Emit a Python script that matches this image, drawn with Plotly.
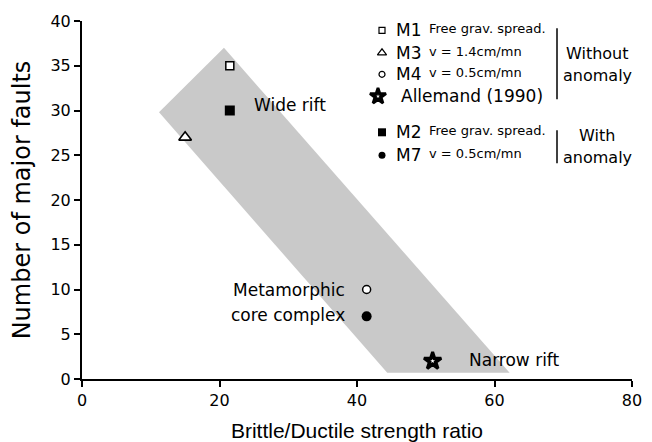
import plotly.graph_objects as go

# ---------------- data ----------------
models = ["M1", "M2", "M3", "M4", "M7", "Allemand (1990)"]
strength_ratio = [21.5, 21.5, 15.0, 41.4, 41.4, 51.0]
major_faults = [35, 30, 27, 10, 7, 2]

band_ratio = [20.65, 11.2, 44.4, 62.2]
band_faults = [37.0, 29.8, 0.7, 0.7]

x_ticks = [0, 20, 40, 60, 80]
y_ticks = [0, 5, 10, 15, 20, 25, 30, 35, 40]

legend_models = ["M1", "M3", "M4", "Allemand (1990)", "M2", "M7"]
legend_desc = ["Free grav. spread.", "v = 1.4cm/mn", "v = 0.5cm/mn", "",
               "Free grav. spread.", "v = 0.5cm/mn"]

# ---------------- layout geometry (page pixels) ----------------
PAGE_OFF = 8                      # default body margin of the html page
W, H = 652 - PAGE_OFF, 442 - PAGE_OFF
PL, PR, PT, PB = 82, 632, 20.7, 378.7   # plot area in page pixels
X0, X1, Y0, Y1 = 0, 80, 0, 40


def dx(px):
    return X0 + (px - PL) / (PR - PL) * (X1 - X0)


def dy(py):
    return Y0 + (PB - py) / (PB - PT) * (Y1 - Y0)


STAR = "Allemand (1990)"
styles = {
    "M1": dict(symbol="square", color="white", line=dict(color="black", width=1.5), size=8),
    "M2": dict(symbol="square", color="black", line=dict(color="black", width=0), size=10),
    "M3": dict(symbol="triangle-up", color="white", line=dict(color="black", width=1.6), size=11),
    "M4": dict(symbol="circle", color="white", line=dict(color="black", width=1.5), size=8),
    "M7": dict(symbol="circle", color="black", line=dict(color="black", width=0), size=10),
    STAR: dict(symbol="star", color="black", line=dict(color="black", width=3), size=13),
}
star_hole = dict(symbol="star", color="white", line=dict(color="white", width=0), size=3.5)

legend_styles = {
    "M1": dict(symbol="square", color="white", line=dict(color="black", width=1.2), size=6),
    "M2": dict(symbol="square", color="black", line=dict(color="black", width=0), size=8),
    "M3": dict(symbol="triangle-up", color="white", line=dict(color="black", width=1.2), size=8),
    "M4": dict(symbol="circle", color="white", line=dict(color="black", width=1.2), size=6),
    "M7": dict(symbol="circle", color="black", line=dict(color="black", width=0), size=7),
    STAR: dict(symbol="star", color="black", line=dict(color="black", width=2.8), size=12),
}
legend_star_hole = dict(symbol="star", color="white", line=dict(color="white", width=0), size=3)

fig = go.Figure()

# gray band
fig.add_trace(go.Scatter(
    x=band_ratio, y=band_faults, mode="lines", fill="toself",
    fillcolor="#c9c9c9", line=dict(width=0, color="#c9c9c9"),
    hoverinfo="skip", showlegend=False))

# data points
for m, xv, yv in zip(models, strength_ratio, major_faults):
    fig.add_trace(go.Scatter(x=[xv], y=[yv], mode="markers", marker=styles[m],
                             showlegend=False, name=m, cliponaxis=False))
    if m == STAR:
        fig.add_trace(go.Scatter(x=[xv], y=[yv], mode="markers", marker=star_hole,
                                 showlegend=False, hoverinfo="skip", cliponaxis=False))

# custom legend
row_py = [30, 52.5, 74, 96, 132, 155]
ann = []
for m, desc, py in zip(legend_models, legend_desc, row_py):
    mx = dx(378) if m == STAR else dx(382)
    fig.add_trace(go.Scatter(x=[mx], y=[dy(py)], mode="markers", marker=legend_styles[m],
                             showlegend=False, hoverinfo="skip", cliponaxis=False))
    if m == STAR:
        fig.add_trace(go.Scatter(x=[mx], y=[dy(py)], mode="markers", marker=legend_star_hole,
                                 showlegend=False, hoverinfo="skip", cliponaxis=False))
        ann.append(dict(x=dx(399), y=dy(py), text=m, xanchor="left", yanchor="middle",
                        font=dict(family="DejaVu Sans", size=17, color="black")))
    else:
        ann.append(dict(x=dx(394), y=dy(py), text=m, xanchor="left", yanchor="middle",
                        font=dict(family="DejaVu Sans", size=17, color="black")))
        ann.append(dict(x=dx(427), y=dy(py - 1.5), text=desc, xanchor="left", yanchor="middle",
                        font=dict(family="DejaVu Sans", size=13, color="black")))

group_text = [("Without", 53), ("anomaly", 75), ("With", 135.5), ("anomaly", 157)]
for t, py in group_text:
    ann.append(dict(x=dx(597), y=dy(py), text=t, xanchor="center", yanchor="middle",
                    font=dict(family="DejaVu Sans", size=16, color="black")))

# in-plot labels
labels = [("Wide rift", 252, 105, "left"), ("Metamorphic", 347, 290, "right"),
          ("core complex", 347, 315, "right"), ("Narrow rift", 467, 360, "left")]
for t, px, py, anc in labels:
    ann.append(dict(x=dx(px), y=dy(py), text=t, xanchor=anc, yanchor="middle",
                    font=dict(family="DejaVu Sans", size=17, color="black")))

for a in ann:
    a.update(showarrow=False, xref="x", yref="y")

shapes = [
    dict(type="line", xref="x", yref="y", x0=dx(557), x1=dx(557), y0=dy(28), y1=dy(99),
         line=dict(color="black", width=1.5)),
    dict(type="line", xref="x", yref="y", x0=dx(557), x1=dx(557), y0=dy(130), y1=dy(163),
         line=dict(color="black", width=1.5)),
]

axis_common = dict(showline=True, linecolor="black", linewidth=2, ticks="outside",
                   ticklen=6, tickwidth=1.5, tickcolor="black", showgrid=False,
                   zeroline=False, tickfont=dict(family="DejaVu Sans", size=16, color="black"))

fig.update_layout(
    width=W, height=H,
    margin=dict(l=PL - PAGE_OFF, r=W - (PR - PAGE_OFF), t=PT - PAGE_OFF, b=H - (PB - PAGE_OFF)),
    paper_bgcolor="white", plot_bgcolor="white",
    showlegend=False,
    annotations=ann, shapes=shapes,
    xaxis=dict(range=[X0, X1], tickvals=x_ticks, automargin=False,
               title=dict(text="Brittle/Ductile strength ratio", standoff=14,
                          font=dict(family="Liberation Sans", size=21, color="black")),
               **axis_common),
    yaxis=dict(range=[Y0, Y1], tickvals=y_ticks, automargin=False,
               title=dict(text="Number of major faults", standoff=19,
                          font=dict(family="DejaVu Sans", size=24, color="black")),
               **axis_common),
)

fig.write_html("out.html")
